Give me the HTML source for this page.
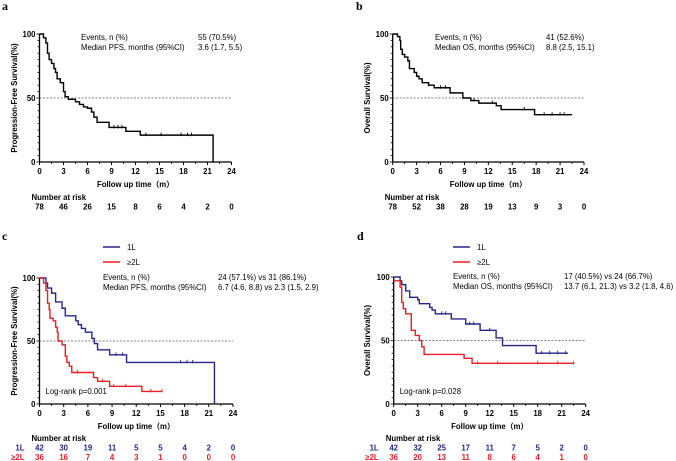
<!DOCTYPE html>
<html><head><meta charset="utf-8"><style>
html,body{margin:0;padding:0;background:#fff;}
svg{display:block;font-family:"Liberation Sans",sans-serif;}
</style></head><body>
<svg id="s" width="676" height="461" viewBox="0 0 676 461"></svg>
<script>
// ---- data ----
const xTicks = [0,3,6,9,12,15,18,21,24];
const yTicks = [0,50,100];
// panel a (PFS)
const aTimes = [0,0.5,0.8,1.0,1.2,1.5,1.8,2.0,2.2,2.6,3.0,3.2,3.6,4.5,5.0,5.5,6.0,6.5,6.8,7.2,8.7,10.8,12.6,21.7];
const aSurv  = [100,97,93,85,80,77,73,70,65,62,55,51,49,47,45,43,42,39,35,31,27,24,21,0];
const aCens  = [9.3,9.8,10.3,13.3,15.2,17.7,18.5,19.0];
const aRisk  = [78,46,26,15,8,6,4,2,0];
// panel b (OS)
const bTimes = [0,0.6,0.9,1.0,1.2,1.5,1.9,2.1,2.7,3.0,3.3,3.7,4.5,5.2,7.2,8.8,9.8,10.8,13.0,13.6,17.8,22.5];
const bSurv  = [100,98,95,88,84,82,79,73,70,67,65,62,60,58,54,50,48,46,44,41,37,37];
const bCens  = [4.5,6.0,6.6,7.2,10.2,12.5,16.5,19,20,21,21.5];
const bRisk  = [78,52,38,28,19,13,9,3,0];
// panel c (PFS by line)
const c1Times = [0,0.8,1.0,1.5,2.0,2.8,3.2,4.5,4.8,5.2,5.7,6.5,6.8,7.2,8.7,10.8,21.7];
const c1Surv  = [100,96,92,88,81,76,70,66,63,60,57,52,48,43,39,33,0];
const c1Cens  = [9.5,10.3,17.5,18.3,19.0];
const c2Times = [0,0.5,0.8,1.0,1.2,1.3,1.7,2.0,2.2,2.3,2.8,3.2,3.4,3.7,4.0,6.7,7.2,8.7,12.7,15.2];
const c2Surv  = [100,96,90,80,75,68,66,61,57,50,47,38,33,30,25,21,18,14,10,10];
const c2Cens  = [4.7,7.8,9.2,10.7,13.8,15.2];
const c1Risk  = [42,30,19,11,5,5,4,2,0];
const c2Risk  = [36,16,7,4,3,1,0,0,0];
// panel d (OS by line)
const d1Times = [0,0.8,1.0,1.5,2.0,3.0,3.2,4.5,4.8,5.2,7.2,9.0,10.8,12.8,13.6,17.8,21.8];
const d1Surv  = [100,97,94,89,84,82,79,76,74,71,67,63,58,52,46,40,40];
const d1Cens  = [6,6.5,9.5,10,12,18.5,19.5,20.5,21.5];
const d2Times = [0,0.8,1.0,1.2,1.5,2.2,2.7,3.2,3.5,3.8,8.8,9.8,22.5];
const d2Surv  = [97,92,80,75,71,58,54,50,45,39,36,32,32];
const d2Cens  = [10.5,13,18,20.5,22.5];
const d1Risk  = [42,32,25,17,11,7,5,2,0];
const d2Risk  = [36,20,13,11,8,6,4,1,0];

const BLUE="#26268a", RED="#ee1c24";
const FS='7.8';
const S=document.getElementById('s');
const NS="http://www.w3.org/2000/svg";
function el(tag,attrs,parent){const e=document.createElementNS(NS,tag);for(const k in attrs)e.setAttribute(k,attrs[k]);(parent||S).appendChild(e);return e;}
function txt(x,y,s,attrs,parent){const e=el('text',Object.assign({x:x,y:y},attrs||{}),parent);e.textContent=s;return e;}

function panel(p){
  const g=el('g',{});
  
  
  const X=t=>p.x0+(p.x1-p.x0)*t/24, Y=v=>p.y0+(p.y100-p.y0)*v/100;
  const l=txt(p.labX,p.labY,p.id,{'font-family':'Liberation Serif','font-weight':'bold','font-size':'12'},g);
  
  
  const ax=el('path',{d:`M${X(0)},${Y(100)}V${Y(0)}H${X(24)}`,stroke:'#000','stroke-width':'1.3',fill:'none'},g);
  
  
  for(let v=0;v<=100;v+=5){el('line',{x1:X(0)-(v%50==0?3:2),x2:X(0),y1:Y(v),y2:Y(v),stroke:'#000','stroke-width':'0.8'},g);}
  yTicks.forEach(v=>{const t=txt(X(0)-4,Y(v)+3,String(v),{'font-size':FS,'font-weight':'bold','text-anchor':'end'},g);
    });
  xTicks.forEach(v=>{el('line',{x1:X(v),x2:X(v),y1:Y(0),y2:Y(0)+3,stroke:'#000','stroke-width':'1'},g);
    if(v<24)el('line',{x1:X(v+1.5),x2:X(v+1.5),y1:Y(0),y2:Y(0)+2,stroke:'#000','stroke-width':'0.8'},g);
    const t=txt(X(v),Y(0)+12,String(v),{'font-size':FS,'font-weight':'bold','text-anchor':'middle'},g);
    });
  const yt=txt(0,0,p.ytitle,{'font-size':FS,'font-weight':'bold','text-anchor':'middle',transform:`translate(${p.ytX},${(Y(0)+Y(100))/2}) rotate(-90)`},g);
  
  const xt=txt((X(0)+X(24))/2,Y(0)+25,'Follow up time（m）',{'font-size':FS,'font-weight':'bold','text-anchor':'middle','font-family':'"Liberation Sans","Noto Sans CJK SC",sans-serif'},g);
  
  const r=el('line',{x1:X(0),x2:X(24),y1:Y(50),y2:Y(50),stroke:'#555','stroke-width':'0.8','stroke-dasharray':'2,1.5'},g);
  
  p.series.forEach(s=>{
    let d=`M${X(s.t[0])},${Y(s.v[0])}`;
    for(let i=1;i<s.t.length;i++){d+=`H${X(s.t[i])}V${Y(s.v[i])}`;}
    const path=el('path',{d:d,stroke:s.c,'stroke-width':'1.4',fill:'none'},g);
    
    s.cens.forEach(ct=>{let v=s.v[0];for(let i=0;i<s.t.length;i++){if(s.t[i]<=ct)v=s.v[i];}
      const m=el('line',{x1:X(ct),x2:X(ct),y1:Y(v)-2.5,y2:Y(v)+1,stroke:s.c,'stroke-width':'0.9'},g);
      });
  });
  p.stats.forEach((row,i)=>{
    const a=txt(p.stX,p.stY+i*10,row[0],{'font-size':FS},g);
    
    const b=txt(p.stVX,p.stY+i*10,row[1],{'font-size':FS},g);
    
  });
  if(p.logrank){const lr=txt(X(0)+6,Y(0)-10,p.logrank,{'font-size':FS},g);
    }
  if(p.legend){p.legend.forEach((L,i)=>{const ly=p.legY+i*15;
    el('line',{x1:p.legX,x2:p.legX+17,y1:ly,y2:ly,stroke:L.c,'stroke-width':'1.5'},g);
    const t=txt(p.legX+24,ly+3,L.n,{'font-size':FS},g);
    });}
  const nr=txt(X(0)-8,p.riskY,'Number at risk',{'font-size':FS,'font-weight':'bold'},g);
  
  p.risk.forEach((row,ri)=>{
    const yy=p.riskY+9.5+ri*9.5;
    if(row.lab){const t=txt(X(0)-15,yy,row.lab,{'font-size':FS,'font-weight':'bold',fill:row.c,'text-anchor':'end'},g);
      }
    row.v.forEach((n,i)=>{const t=txt(X(xTicks[i]),yy,String(n),{'font-size':FS,'font-weight':'bold',fill:row.c,'text-anchor':'middle'},g);
      });
  });
}

panel({id:'a',labX:2,labY:10,x0:39.5,x1:231.5,y0:162,y100:34,ytitle:'Progression-Free Survival(%)',ytX:17,
  series:[{t:aTimes,v:aSurv,cens:aCens,c:'#000',name:'pfs-curve'}],
  stats:[['Events, n (%)','55 (70.5%)'],['Median PFS, months (95%CI)','3.6 (1.7, 5.5)']],stX:81,stY:40,stVX:198,
  riskY:200,risk:[{v:aRisk,c:'#000'}]});
panel({id:'b',labX:356,labY:10,x0:392.7,x1:584,y0:162,y100:34,ytitle:'Overall Survival(%)',ytX:370,
  series:[{t:bTimes,v:bSurv,cens:bCens,c:'#000',name:'os-curve'}],
  stats:[['Events, n (%)','41 (52.6%)'],['Median OS, months (95%CI)','8.8 (2.5, 15.1)']],stX:435,stY:40,stVX:546,
  riskY:200,risk:[{v:bRisk,c:'#000'}]});
panel({id:'c',labX:2,labY:240,x0:39.5,x1:233,y0:404,y100:278,ytitle:'Progression-Free Survival(%)',ytX:17,
  series:[{t:c1Times,v:c1Surv,cens:c1Cens,c:BLUE,name:'pfs-1l-curve'},{t:c2Times,v:c2Surv,cens:c2Cens,c:RED,name:'pfs-2l-curve'}],
  stats:[['Events, n (%)','24 (57.1%) vs 31 (86.1%)'],['Median PFS, months (95%CI)','6.7 (4.6, 8.8) vs 2.3 (1.5, 2.9)']],stX:103,stY:280,stVX:218,
  logrank:'Log-rank p=0.001',legend:[{n:'1L',c:BLUE},{n:'≥2L',c:RED}],legX:103,legY:247,
  riskY:441,risk:[{lab:'1L',v:c1Risk,c:BLUE},{lab:'≥2L',v:c2Risk,c:RED}]});
panel({id:'d',labX:357,labY:240,x0:393.7,x1:585.7,y0:404,y100:277,ytitle:'Overall Survival(%)',ytX:370,
  series:[{t:d1Times,v:d1Surv,cens:d1Cens,c:BLUE,name:'os-1l-curve'},{t:d2Times,v:d2Surv,cens:d2Cens,c:RED,name:'os-2l-curve'}],
  stats:[['Events, n (%)','17 (40.5%) vs 24 (66.7%)'],['Median OS, months (95%CI)','13.7 (6.1, 21.3) vs 3.2 (1.8, 4.6)']],stX:453,stY:279,stVX:564,
  logrank:'Log-rank p=0.028',legend:[{n:'1L',c:BLUE},{n:'≥2L',c:RED}],legX:453,legY:247,
  riskY:441,risk:[{lab:'1L',v:d1Risk,c:BLUE},{lab:'≥2L',v:d2Risk,c:RED}]});
</script>
</body></html>
